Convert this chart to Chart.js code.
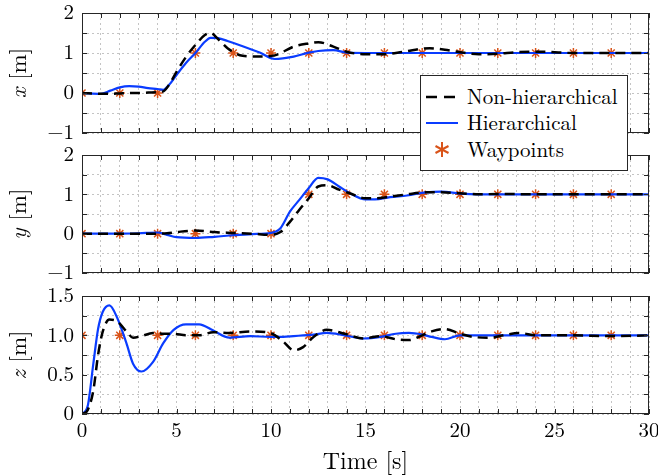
<!DOCTYPE html>
<html>
<head>
<meta charset="utf-8">
<script src="https://cdn.jsdelivr.net/npm/chart.js@4.4.1/dist/chart.umd.min.js"></script>
<style>
  html, body { margin: 0; padding: 0; background: #fff; }
  #wrap { position: relative; width: 658px; height: 476px; overflow: hidden; }
  #wrap canvas { position: absolute; left: 0; }
  #legend {
    position: absolute; left: 420px; top: 75px; width: 208px; height: 96px;
    box-sizing: border-box; border: 1px solid #262626; background: #fff;
    font-family: 'Latin Modern Roman', 'Liberation Serif', serif; font-size: 21px; color: #000;
  }
  #legend .row { position: absolute; left: 0; height: 26px; line-height: 26px; width: 100%; }
  #legend svg { position: absolute; left: 4px; top: 0; }
  #legend span { position: absolute; left: 46px; white-space: nowrap; }
</style>
</head>
<body>
<div id="wrap">
  <canvas id="cx" width="658" height="143" style="top:0"></canvas>
  <canvas id="cy" width="658" height="140" style="top:143px"></canvas>
  <canvas id="cz" width="658" height="193" style="top:283px"></canvas>
  <div id="legend">
    <div class="row" style="top:6px">
      <svg width="36" height="26"><line x1="1" y1="15" x2="33" y2="15" stroke="#000" stroke-width="2.5" stroke-dasharray="11,7"/></svg>
      <span>Non-hierarchical</span>
    </div>
    <div class="row" style="top:32px">
      <svg width="36" height="26"><line x1="1" y1="15" x2="33" y2="15" stroke="#0a3cff" stroke-width="2"/></svg>
      <span>Hierarchical</span>
    </div>
    <div class="row" style="top:59px">
      <svg width="36" height="26"><g stroke="#d95319" stroke-width="2"><line x1="17" y1="7" x2="17" y2="22"/><line x1="10.5" y1="11" x2="23.5" y2="18"/><line x1="10.5" y1="18" x2="23.5" y2="11"/></g></svg>
      <span>Waypoints</span>
    </div>
  </div>
</div>
<script>
// 航点（每2秒一个）
const wpTime = [0, 2, 4, 6, 8, 10, 12, 14, 16, 18, 20, 22, 24, 26, 28];
const wpX = [0, 0, 0, 1, 1, 1, 1, 1, 1, 1, 1, 1, 1, 1, 1];
const wpY = [0, 0, 0, 0, 0, 0, 1, 1, 1, 1, 1, 1, 1, 1, 1];
const wpZ = [1, 1, 1, 1, 1, 1, 1, 1, 1, 1, 1, 1, 1, 1, 1];

// x 方向
const tX = [0, 1, 1.5, 2, 2.5, 3, 3.5, 4, 4.3, 4.6, 5, 5.5, 6, 6.5, 6.8, 7.2, 7.7, 8.5, 9.4, 10.2, 11.2, 12, 12.5, 13.3, 14, 15, 16, 17, 18.4, 19.2, 20, 21, 22, 23, 24.4, 26, 28, 30];
const nonHierX = [0, -0.02, -0.02, -0.01, 0, 0, 0.01, 0.02, 0.04, 0.2, 0.53, 0.9, 1.2, 1.45, 1.5, 1.35, 1.12, 0.93, 0.91, 0.94, 1.16, 1.24, 1.27, 1.16, 1.03, 0.97, 0.97, 1.03, 1.12, 1.08, 1.02, 0.97, 0.98, 1.02, 1.03, 1.0, 1.0, 1.0];
const hierX = [0, -0.02, 0.06, 0.14, 0.17, 0.16, 0.12, 0.1, 0.08, 0.2, 0.45, 0.75, 1.0, 1.28, 1.38, 1.37, 1.3, 1.17, 1.01, 0.85, 0.91, 1.01, 1.05, 1.07, 1.01, 1.0, 1.0, 1.0, 1.0, 1.0, 1.0, 1.0, 1.0, 1.0, 1.0, 1.0, 1.0, 1.0];

// y 方向
const tY = [0, 1, 2, 3, 4, 4.5, 5, 6, 7, 8, 9, 10, 10.5, 11, 11.5, 12, 12.5, 13, 13.6, 14.2, 15, 15.5, 16.3, 17.2, 18.2, 19, 20, 21, 22, 24, 26, 28, 30];
const nonHierY = [0, 0, 0, 0, 0, 0.01, 0.04, 0.08, 0.04, 0.02, 0, -0.03, 0.04, 0.3, 0.61, 0.9, 1.2, 1.23, 1.12, 1.02, 0.9, 0.9, 0.94, 1.0, 1.05, 1.05, 1.03, 1.0, 1.01, 1.0, 1.0, 1.0, 1.0];
const hierY = [0, 0, 0, 0.01, 0.03, -0.03, -0.09, -0.11, -0.08, -0.04, -0.01, 0.02, 0.14, 0.56, 0.86, 1.16, 1.42, 1.38, 1.2, 1.02, 0.87, 0.87, 0.93, 0.97, 1.05, 1.07, 1.02, 1.0, 1.0, 1.0, 1.0, 1.0, 1.0];

// z 方向
const tZ = [0, 0.3, 0.6, 0.85, 1.1, 1.45, 1.85, 2.35, 2.7, 3.15, 3.75, 4.3, 4.85, 5.5, 6.2, 6.95, 7.8, 8.9, 9.95, 10.65, 11.2, 11.7, 12.25, 12.95, 13.9, 14.9, 15.8, 16.6, 17.3, 18, 18.5, 19.2, 20, 20.7, 21.6, 22.3, 23.1, 24.1, 26, 28, 30];
const nonHierZ = [0, 0.05, 0.3, 0.75, 1.05, 1.2, 1.18, 1.05, 0.97, 0.99, 1.03, 1.02, 1.02, 1.0, 1.0, 1.04, 1.03, 1.05, 1.03, 0.92, 0.81, 0.85, 0.98, 1.07, 1.02, 0.96, 0.99, 0.95, 0.94, 1.0, 1.05, 1.08, 1.02, 0.98, 0.97, 1.0, 1.03, 1.0, 1.0, 0.99, 1.0];
const hierZ = [0, 0.1, 0.64, 1.08, 1.3, 1.38, 1.23, 0.9, 0.64, 0.54, 0.66, 0.9, 1.07, 1.14, 1.14, 1.06, 0.97, 0.99, 0.98, 0.98, 0.99, 1.0, 1.01, 1.03, 1.0, 0.96, 0.98, 1.02, 1.03, 1.01, 0.98, 0.95, 1.0, 1.0, 1.0, 1.0, 1.0, 1.0, 1.0, 1.0, 1.0];

const SERIF = "'Latin Modern Roman', 'Liberation Serif', serif";
const INK = '#262626';

const pts = (xs, ys) => xs.map((x, i) => ({ x, y: ys[i] }));
const minus = v => (v < 0 ? '\u2212' + Math.abs(v) : String(v));

// 画坐标框、向内刻度和 y 轴标题（斜体变量名）
const framePlugin = {
  id: 'frame',
  afterDraw(chart, args, opts) {
    const { ctx, chartArea: a, scales } = chart;
    ctx.save();
    ctx.strokeStyle = INK;
    ctx.lineWidth = 1;
    ctx.beginPath();
    scales.x.ticks.forEach(t => {
      const px = Math.round(scales.x.getPixelForValue(t.value)) + 0.5;
      ctx.moveTo(px, a.top); ctx.lineTo(px, a.top + 5);
      ctx.moveTo(px, a.bottom); ctx.lineTo(px, a.bottom - 5);
    });
    scales.y.ticks.forEach(t => {
      const py = Math.round(scales.y.getPixelForValue(t.value)) + 0.5;
      ctx.moveTo(a.left, py); ctx.lineTo(a.left + 5, py);
      ctx.moveTo(a.right, py); ctx.lineTo(a.right - 5, py);
    });
    ctx.stroke();
    ctx.strokeRect(Math.round(a.left) + 0.5, Math.round(a.top) + 0.5, Math.round(a.width) - 1, Math.round(a.height) - 1);

    // y 轴标题
    const italic = 'italic 23px ' + SERIF;
    const normal = '23px ' + SERIF;
    ctx.font = italic;
    const w1 = ctx.measureText(opts.symbol).width;
    ctx.font = normal;
    const w2 = ctx.measureText(' [m]').width;
    ctx.translate(26, (a.top + a.bottom) / 2);
    ctx.rotate(-Math.PI / 2);
    ctx.fillStyle = '#000';
    ctx.textBaseline = 'alphabetic';
    ctx.textAlign = 'left';
    const start = -(w1 + w2) / 2;
    ctx.font = italic;
    ctx.fillText(opts.symbol, start, 0);
    ctx.font = normal;
    ctx.fillText(' [m]', start + w1, 0);
    ctx.restore();
  }
};

function makePanel(id, t, nonHier, hier, wp, cfg) {
  return new Chart(document.getElementById(id), {
    type: 'line',
    data: {
      datasets: [
        {
          label: 'Non-hierarchical',
          data: pts(t, nonHier),
          borderColor: '#000',
          borderWidth: 2.5,
          borderDash: [10, 6],
          pointRadius: 0,
          cubicInterpolationMode: 'monotone'
        },
        {
          label: 'Hierarchical',
          data: pts(t, hier),
          borderColor: '#0a3cff',
          borderWidth: 2.2,
          pointRadius: 0,
          cubicInterpolationMode: 'monotone'
        },
        {
          label: 'Waypoints',
          data: pts(wpTime, wp),
          showLine: false,
          pointStyle: 'star',
          pointRadius: 5,
          pointBorderWidth: 1.5,
          borderColor: '#d95319',
          backgroundColor: '#d95319'
        }
      ]
    },
    options: {
      responsive: false,
      animation: false,
      events: [],
      layout: { padding: { top: cfg.padTop, right: 9, left: 0, bottom: 0 } },
      plugins: {
        legend: { display: false },
        tooltip: { enabled: false },
        frame: { symbol: cfg.symbol }
      },
      scales: {
        x: {
          type: 'linear',
          min: 0,
          max: 30,
          grid: { color: '#c4c4c4', lineWidth: 1, drawTicks: false },
          border: { display: false, dash: [2, 3] },
          ticks: {
            display: cfg.showX,
            stepSize: 1,
            autoSkip: false,
            maxRotation: 0,
            padding: 4,
            color: '#000',
            font: { family: SERIF, size: 21 },
            callback: v => (v % 5 === 0 ? String(v) : '')
          },
          title: {
            display: cfg.showX,
            text: 'Time [s]',
            color: '#000',
            font: { family: SERIF, size: 24 },
            padding: { top: 2, bottom: 0 }
          },
          afterFit: s => {
            s.height = cfg.xHeight;
            s.paddingLeft = 0;
            s.paddingRight = 0;
          }
        },
        y: {
          min: cfg.yMin,
          max: cfg.yMax,
          grid: { color: '#c4c4c4', lineWidth: 1, drawTicks: false },
          border: { display: false, dash: [2, 3] },
          ticks: {
            stepSize: cfg.yStep,
            autoSkip: false,
            padding: 8,
            color: '#000',
            font: { family: SERIF, size: 21 },
            callback: cfg.yLabel
          },
          afterFit: s => {
            s.width = 82;
            s.paddingTop = 0;
            s.paddingBottom = 0;
          }
        }
      }
    },
    plugins: [framePlugin]
  });
}

const intLabel = v => (Number.isInteger(v) ? minus(v) : '');

makePanel('cx', tX, nonHierX, hierX, wpX, {
  symbol: 'x', padTop: 13, xHeight: 10, showX: false,
  yMin: -1, yMax: 2, yStep: 0.5, yLabel: intLabel
});
makePanel('cy', tY, nonHierY, hierY, wpY, {
  symbol: 'y', padTop: 12, xHeight: 10, showX: false,
  yMin: -1, yMax: 2, yStep: 0.5, yLabel: intLabel
});
makePanel('cz', tZ, nonHierZ, hierZ, wpZ, {
  symbol: 'z', padTop: 13, xHeight: 62, showX: true,
  yMin: 0, yMax: 1.5, yStep: 0.25,
  yLabel: v => (Math.abs(v * 2 - Math.round(v * 2)) < 1e-9 ? (v === 0 ? '0' : v.toFixed(1)) : '')
});
</script>
</body>
</html>
